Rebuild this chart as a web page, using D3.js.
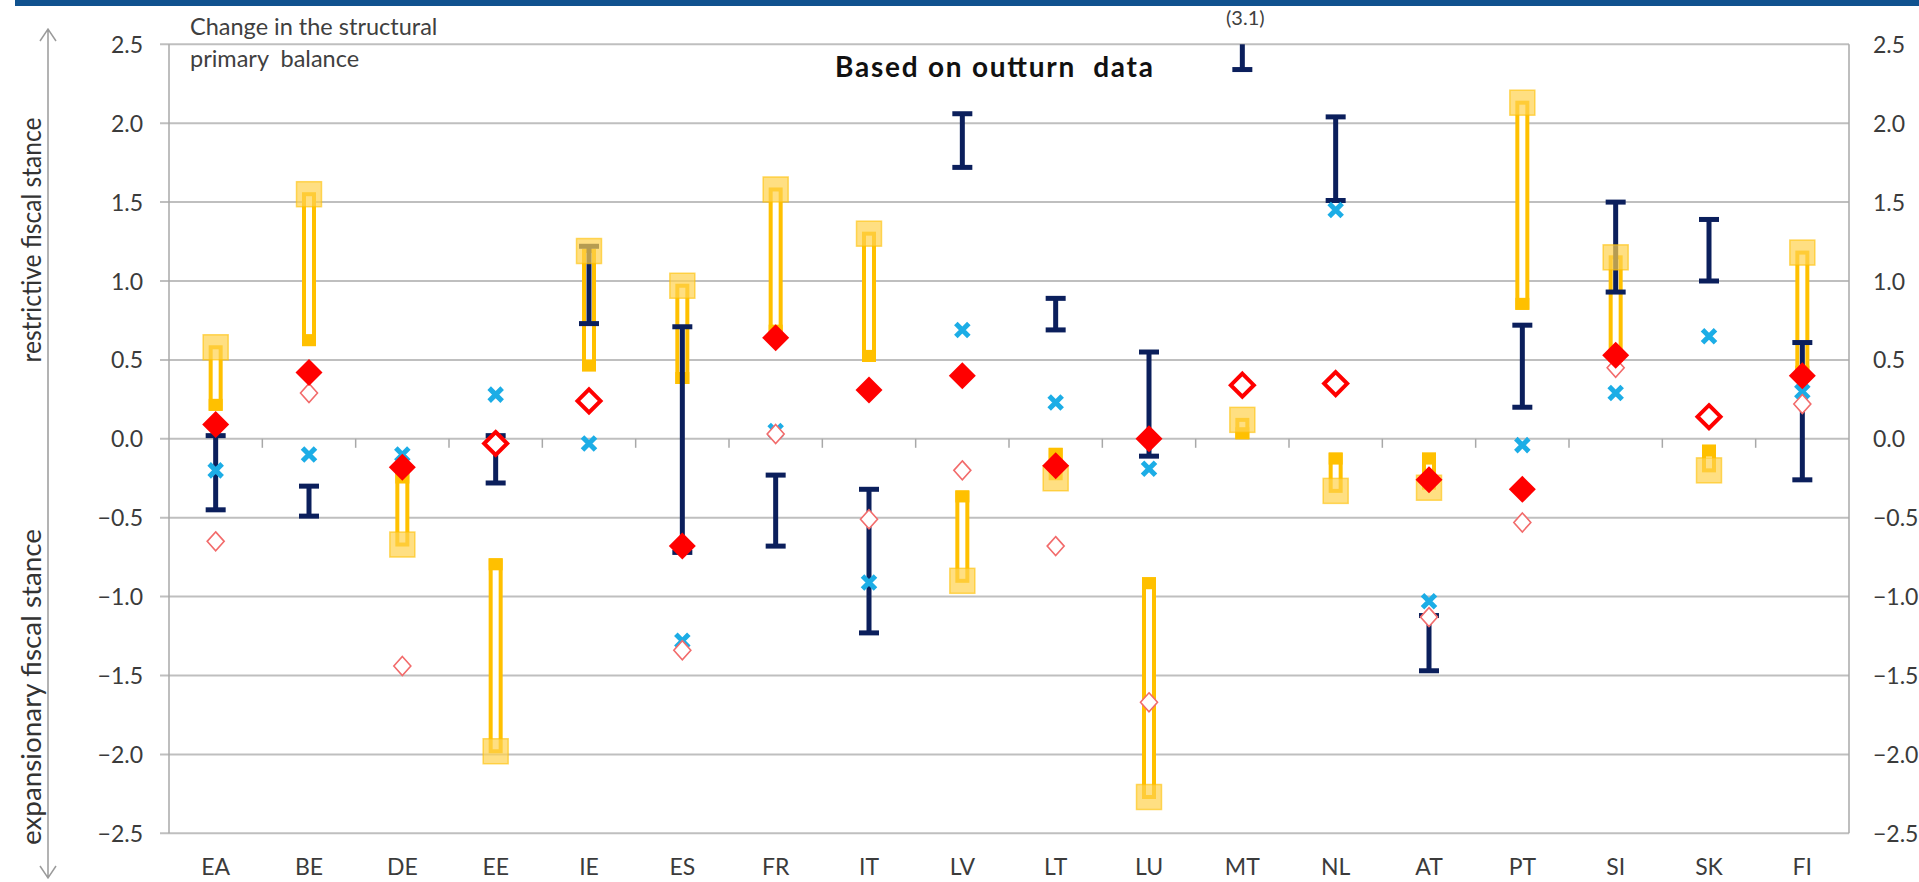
<!DOCTYPE html>
<html><head><meta charset="utf-8">
<script src="https://cdn.jsdelivr.net/npm/d3@7"></script>
<style>
html,body{margin:0;padding:0;background:#fff;}
svg text{font-family:Lato,"Open Sans",sans-serif;}
</style></head>
<body><svg id="c" width="1919" height="882"></svg>
<script>
const categories = ["EA","BE","DE","EE","IE","ES","FR","IT","LV","LT","LU","MT","NL","AT","PT","SI","SK","FI"];
// navy range (low, high)
const rangeLow  = [-0.45,-0.49, null,-0.28, 0.73,-0.72,-0.68,-1.23, 1.72, 0.69,-0.11, 2.34, 1.51,-1.47, 0.20, 0.93, 1.00,-0.26];
const rangeHigh = [ 0.02,-0.30, null, 0.02, 1.22, 0.71,-0.23,-0.32, 2.06, 0.89, 0.55, 3.1 , 2.04,-1.12, 0.72, 1.50, 1.39, 0.61];
// yellow bar: starting value and square marker value
const barFrom   = [ 0.19, 0.60,-0.22,-0.77, 0.44, 0.36, 0.66, 0.50,-0.34,-0.07,-0.89, 0.01,-0.10,-0.10, 0.83, 0.50,-0.05, 0.40];
const squareVal = [ 0.58, 1.55,-0.67,-1.98, 1.19, 0.97, 1.58, 1.30,-0.90,-0.25,-2.27, 0.12,-0.33,-0.31, 2.13, 1.15,-0.20, 1.18];
// light blue crosses
const crossVal  = [-0.20,-0.10,-0.10, 0.28,-0.03,-1.28, 0.05,-0.91, 0.69, 0.23,-0.19, null, 1.45,-1.03,-0.04, 0.29, 0.65, 0.30];
// red diamonds (filled), thick hollow red diamonds, thin hollow pink diamonds
const diamondFilled = [0.09, 0.42,-0.18, null, null,-0.68, 0.64, 0.31, 0.40,-0.17, 0.00, null, null,-0.26,-0.32, 0.53, null, 0.40];
const diamondThick  = [null, null, null,-0.03, 0.24, null, null, null, null, null, null, 0.34, 0.35, null, null, null, 0.14, null];
const diamondThin   = [-0.65, 0.29,-1.44, null, null,-1.34, 0.03,-0.51,-0.20,-0.68,-1.67, null, null,-1.13,-0.53, 0.45, null, 0.22];
const yTicks = [2.5,2.0,1.5,1.0,0.5,0.0,-0.5,-1.0,-1.5,-2.0,-2.5];
const yDomain = [-2.5, 2.5];
const titleText = "Based on outturn  data";
const noteLines = ["Change in the structural","primary  balance"];
const upLabel = "restrictive fiscal stance";
const downLabel = "expansionary fiscal stance";

const svg = d3.select("#c");
const L = 169, R = 1849, T = 44.3, B = 833.3;
const x = d3.scaleBand().domain(categories).range([L, R]).padding(0);
const y = d3.scaleLinear().domain(yDomain).range([B, T]);
const cx = c => x(c) + x.bandwidth()/2;
const cy = v => y(Math.max(yDomain[0], Math.min(yDomain[1], v)));
const gridCol = "#BFBFBF", txtCol = "#3b3b3b";

// top band
svg.append("rect").attr("x",15).attr("y",0).attr("width",1904).attr("height",6).attr("fill","#10528F");

// gridlines
svg.append("g").selectAll("line").data(yTicks).join("line")
  .attr("x1",L-9).attr("x2",R).attr("y1",d=>y(d)).attr("y2",d=>y(d))
  .attr("stroke",gridCol).attr("stroke-width",2);
// vertical axis lines
svg.append("line").attr("x1",L).attr("x2",L).attr("y1",T).attr("y2",B).attr("stroke","#A8A8A8").attr("stroke-width",1.5);
svg.append("line").attr("x1",R).attr("x2",R).attr("y1",T).attr("y2",B).attr("stroke","#A8A8A8").attr("stroke-width",1.5);
// category ticks on zero line
svg.append("g").selectAll("line").data(categories.slice(1)).join("line")
  .attr("x1",d=>x(d)).attr("x2",d=>x(d)).attr("y1",y(0)).attr("y2",y(0)+9)
  .attr("stroke","#A8A8A8").attr("stroke-width",1.5);

// axes via d3
const fmt = d3.format(".1f");
const gl = svg.append("g").attr("transform",`translate(${L-26},0)`)
  .call(d3.axisLeft(y).tickValues(yTicks).tickFormat(fmt).tickSize(0));
const gr = svg.append("g").attr("transform",`translate(${R+24},0)`)
  .call(d3.axisRight(y).tickValues(yTicks).tickFormat(fmt).tickSize(0));
[gl,gr].forEach(g=>{g.select(".domain").remove();
  g.selectAll("text").attr("font-size",23).attr("fill",txtCol).attr("font-family","Lato").attr("dy","0.35em").attr("x",null);});
gr.selectAll("text").attr("text-anchor","start");
gl.selectAll("text").attr("text-anchor","end");
const gx = svg.append("g").attr("transform",`translate(0,${B})`)
  .call(d3.axisBottom(x).tickSize(0));
gx.select(".domain").remove();
gx.selectAll("text").attr("font-size",23).attr("fill",txtCol).attr("font-family","Lato").attr("y",42).attr("dy",0);

// yellow bars
const yb = svg.append("g");
categories.forEach((c,i)=>{
  if(barFrom[i]==null) return;
  const a = cy(barFrom[i]), b = cy(squareVal[i]);
  const top = Math.min(a,b), h = Math.abs(a-b);
  yb.append("rect").attr("x",cx(c)-5).attr("y",top).attr("width",10).attr("height",h)
    .attr("fill","#fff").attr("stroke","#FFC000").attr("stroke-width",4);
  const capY = a < b ? a-2 : a-10;
  yb.append("rect").attr("x",cx(c)-7).attr("y",capY).attr("width",14).attr("height",12).attr("fill","#FFC000");
});

// navy ranges
const nv = svg.append("g");
const navy = "#0B1F5C";
categories.forEach((c,i)=>{
  if(rangeLow[i]==null) return;
  const lo = cy(rangeLow[i]), hi = cy(rangeHigh[i]);
  nv.append("line").attr("x1",cx(c)).attr("x2",cx(c)).attr("y1",lo).attr("y2",hi).attr("stroke",navy).attr("stroke-width",5);
  nv.append("line").attr("x1",cx(c)-10).attr("x2",cx(c)+10).attr("y1",lo).attr("y2",lo).attr("stroke",navy).attr("stroke-width",5);
  if(rangeHigh[i] <= yDomain[1])
    nv.append("line").attr("x1",cx(c)-10).attr("x2",cx(c)+10).attr("y1",hi).attr("y2",hi).attr("stroke",navy).attr("stroke-width",5);
  else
    svg.append("text").attr("x",cx(c)+3).attr("y",25).attr("text-anchor","middle").attr("font-size",20).attr("fill","#404040").text("("+rangeHigh[i]+")");
});

// yellow squares
svg.append("g").selectAll("rect").data(categories.map((c,i)=>[c,squareVal[i]]).filter(d=>d[1]!=null)).join("rect")
  .attr("x",d=>cx(d[0])-12.5).attr("y",d=>cy(d[1])-12.5).attr("width",25).attr("height",25)
  .attr("fill","#FFD24D").attr("fill-opacity",0.7).attr("stroke","#FFC000").attr("stroke-opacity",0.6).attr("stroke-width",1.5);

// crosses
const cr = svg.append("g");
categories.forEach((c,i)=>{
  if(crossVal[i]==null) return;
  const X = cx(c), Y = cy(crossVal[i]), s = 6.5;
  cr.append("path").attr("d",`M${X-s},${Y-s}L${X+s},${Y+s}M${X-s},${Y+s}L${X+s},${Y-s}`)
    .attr("stroke","#1CADE6").attr("stroke-width",5).attr("fill","none");
});

const dpath = (X,Y,w,h)=>`M${X},${Y-h}L${X+w},${Y}L${X},${Y+h}L${X-w},${Y}Z`;
// thin pink diamonds
svg.append("g").selectAll("path").data(categories.map((c,i)=>[c,diamondThin[i]]).filter(d=>d[1]!=null)).join("path")
  .attr("d",d=>dpath(cx(d[0]),cy(d[1]),8.5,9.5)).attr("fill","#fff").attr("stroke","#F26B6B").attr("stroke-width",1.6);
// thick hollow diamonds
svg.append("g").selectAll("path").data(categories.map((c,i)=>[c,diamondThick[i]]).filter(d=>d[1]!=null)).join("path")
  .attr("d",d=>dpath(cx(d[0]),cy(d[1]),11.5,11.5)).attr("fill","#fff").attr("stroke","#FF0000").attr("stroke-width",4);
// filled diamonds
svg.append("g").selectAll("path").data(categories.map((c,i)=>[c,diamondFilled[i]]).filter(d=>d[1]!=null)).join("path")
  .attr("d",d=>dpath(cx(d[0]),cy(d[1]),13.5,13.5)).attr("fill","#FF0000");

// texts
svg.append("text").attr("x",994).attr("y",77).attr("text-anchor","middle").attr("font-size",28).attr("font-weight","bold")
  .attr("fill","#111").attr("xml:space","preserve").attr("textLength",318).attr("lengthAdjust","spacing").text(titleText);
svg.append("g").selectAll("text").data(noteLines).join("text")
  .attr("x",190).attr("y",(d,i)=>35+i*32).attr("font-size",23.5).attr("fill","#404040").attr("xml:space","preserve").text(d=>d);
svg.append("text").attr("transform","translate(41,240) rotate(-90)").attr("text-anchor","middle").attr("font-size",27)
  .attr("textLength",245).attr("lengthAdjust","spacingAndGlyphs").attr("fill","#333").text(upLabel);
svg.append("text").attr("transform","translate(41,687) rotate(-90)").attr("text-anchor","middle").attr("font-size",27)
  .attr("textLength",316).attr("lengthAdjust","spacingAndGlyphs").attr("fill","#333").text(downLabel);
// double arrow
svg.append("path").attr("d","M48,29V878M40,41L48,29L56,41M40,866L48,878L56,866").attr("stroke","#9A9A9A").attr("stroke-width",1.5).attr("fill","none");
</script></body></html>
